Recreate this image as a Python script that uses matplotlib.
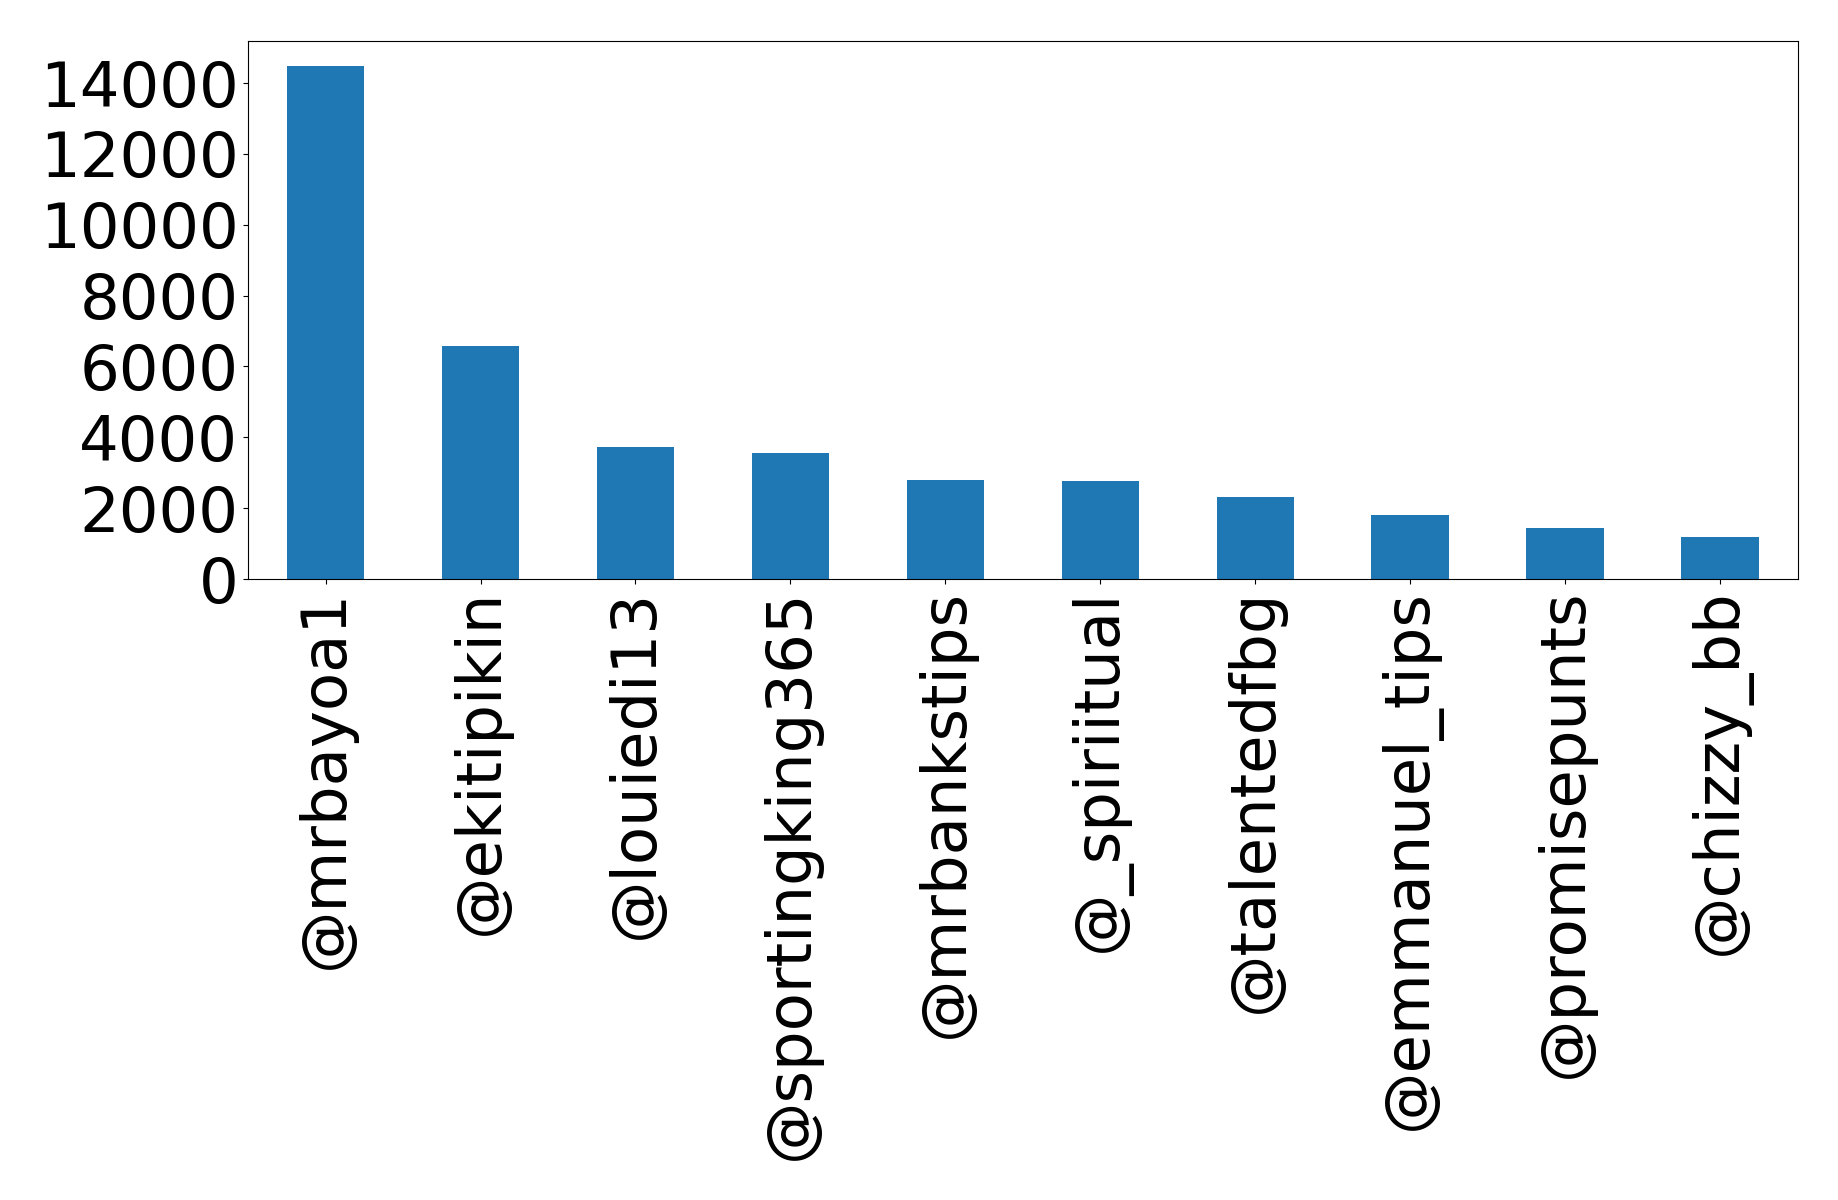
import matplotlib
matplotlib.use("Agg")
import matplotlib.pyplot as plt

users = ["@mrbayoa1", "@ekitipikin", "@louiedi13", "@sportingking365", "@mrbankstips",
         "@_spiriitual", "@talentedfbg", "@emmanuel_tips", "@promisepunts", "@chizzy_bb"]
counts = [14470, 6580, 3740, 3545, 2786, 2757, 2307, 1801, 1435, 1182]
yticks = [0, 2000, 4000, 6000, 8000, 10000, 12000, 14000]

fig = plt.figure(figsize=(18.38, 12), dpi=100)
ax = fig.add_subplot(111)
fig.subplots_adjust(left=0.135, right=0.978, top=0.966, bottom=0.5175)

x = range(len(users))
ax.bar(x, counts, width=0.5, color="#1f77b4")
ax.set_xlim(-0.5, len(users) - 0.5)
ax.set_xticks(list(x))
ax.set_xticklabels(users, rotation=90, fontsize=45)
ax.set_yticks(yticks)
ax.tick_params(axis="y", labelsize=45)

fig.savefig("out.png", dpi=100)
